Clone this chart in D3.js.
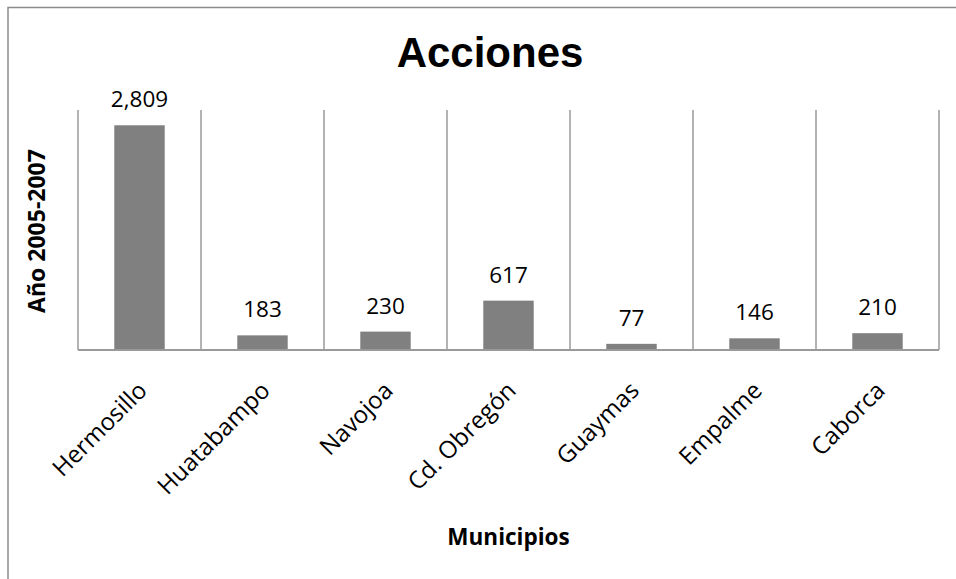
<!DOCTYPE html>
<html>
<head>
<meta charset="utf-8">
<script src="https://cdn.jsdelivr.net/npm/d3@7"></script>
<style>
  body { margin: 0; background: #fff; }
  svg { display: block; }
</style>
</head>
<body>
<div id="chart"></div>
<script>
// Data
var municipios = ["Hermosillo", "Huatabampo", "Navojoa", "Cd. Obregón", "Guaymas", "Empalme", "Caborca"];
var acciones = [2809, 183, 230, 617, 77, 146, 210];

var width = 956, height = 579;
var plot = {left: 78, right: 939, top: 110, bottom: 350};

var svg = d3.select("#chart").append("svg")
    .attr("width", width)
    .attr("height", height);

// chart frame (runs off the right and bottom edges)
svg.append("path")
    .attr("d", "M8," + (height + 5) + "V7.5H" + (width + 5))
    .attr("fill", "none")
    .attr("stroke", "#8c8c8c")
    .attr("stroke-width", 1.5);

var x = d3.scaleBand()
    .domain(municipios)
    .range([plot.left, plot.right])
    .padding(0);

var y = d3.scaleLinear()
    .domain([0, 3000])
    .range([plot.bottom, plot.top]);

// vertical gridlines at category boundaries
var bounds = municipios.map(function (d) { return x(d); }).concat([plot.right]);
svg.append("g").selectAll("line")
    .data(bounds)
    .enter().append("line")
    .attr("x1", function (d) { return d; })
    .attr("x2", function (d) { return d; })
    .attr("y1", y(3000))
    .attr("y2", y(0))
    .attr("stroke", "#9a9a9a")
    .attr("stroke-width", 1.5);

// bars
var barW = x.bandwidth() * 0.41;
svg.append("g").selectAll("rect")
    .data(acciones)
    .enter().append("rect")
    .attr("x", function (d, i) { return x(municipios[i]) + (x.bandwidth() - barW) / 2; })
    .attr("y", function (d) { return y(d); })
    .attr("width", barW)
    .attr("height", function (d) { return y(0) - y(d); })
    .attr("fill", "#808080");

// x axis line
svg.append("line")
    .attr("x1", plot.left)
    .attr("x2", plot.right)
    .attr("y1", y(0))
    .attr("y2", y(0))
    .attr("stroke", "#9a9a9a")
    .attr("stroke-width", 2);

// value labels
svg.append("g").selectAll("text")
    .data(acciones)
    .enter().append("text")
    .attr("x", function (d, i) { return x(municipios[i]) + x.bandwidth() / 2; })
    .attr("y", function (d) { return y(d) - 18; })
    .attr("text-anchor", "middle")
    .style("font-family", "'Open Sans', sans-serif")
    .style("font-size", "22.5px")
    .attr("fill", "#000")
    .text(function (d) { return d3.format(",")(d); });

// rotated category labels
svg.append("g").selectAll("text")
    .data(municipios)
    .enter().append("text")
    .attr("transform", function (d) {
        var cx = x(d) + x.bandwidth() / 2 + 9;
        return "translate(" + cx + ",392) rotate(-45)";
    })
    .attr("text-anchor", "end")
    .style("font-family", "'Open Sans', sans-serif")
    .style("font-size", "24px")
    .attr("fill", "#000")
    .text(function (d) { return d; });

// title
svg.append("text")
    .attr("x", 490)
    .attr("y", 67)
    .attr("text-anchor", "middle")
    .style("font-family", "'Liberation Sans', Arial, sans-serif")
    .style("font-weight", "bold")
    .style("font-size", "42px")
    .text("Acciones");

// axis titles
svg.append("text")
    .attr("transform", "translate(45,231) rotate(-90)")
    .attr("text-anchor", "middle")
    .style("font-family", "'Open Sans', sans-serif")
    .style("font-weight", "bold")
    .style("font-size", "23px")
    .text("Año 2005-2007");

svg.append("text")
    .attr("x", (plot.left + plot.right) / 2)
    .attr("y", 545)
    .attr("text-anchor", "middle")
    .style("font-family", "'Open Sans', sans-serif")
    .style("font-weight", "bold")
    .style("font-size", "22.5px")
    .text("Municipios");
</script>
</body>
</html>
